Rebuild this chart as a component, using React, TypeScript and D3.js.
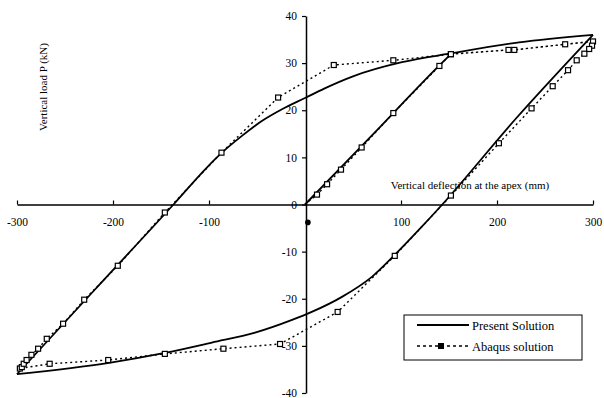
import React, { useEffect, useRef } from 'react';
import * as d3 from 'd3';

const width = 604;
const height = 398;
const font = '"Liberation Serif", "Times New Roman", serif';

// deflection (mm), load (kN)
const presentLoading: [number, number][] = [[0, 0], [70, 14.7], [140, 29.5], [153, 32.1]];
const presentUpper: [number, number][] = [
  [-300, -36], [-220, -18.3], [-137, 0], [-102, 7.9], [-86, 11.1], [-66, 14.5], [-45, 17.7],
  [-24, 20.2], [0, 22.6], [20, 24.6], [50, 27.2], [101, 30.2], [153, 32.1], [223, 34.4], [300, 36],
];
const presentLower: [number, number][] = [
  [300, 36], [220, 18.3], [143, 0], [119, -5.3], [94, -10.6], [70, -15.3], [38.5, -19.6],
  [7, -22.8], [-13.5, -24.5], [-52, -27.2], [-97, -29.3], [-146, -31.5], [-204, -33.6], [-300, -36],
];
const abaqusLoading: [number, number][] = [
  [12.5, 2.1], [23, 4.3], [37.5, 7.4], [59, 12.1], [92, 19.4], [140, 29.4], [152, 31.9],
];
const abaqusTop: [number, number][] = [[212, 32.8], [218, 32.8], [271, 34], [300, 34.6]];
const abaqusUnloading: [number, number][] = [
  [299, 33.7], [296, 33], [291, 32], [283, 30.6], [274, 28.5], [258, 25.1], [236, 20.4],
  [202, 13], [152, 1.9], [93.5, -10.9], [34, -22.8], [-26, -29.6], [-85, -30.6],
  [-146, -31.7], [-205, -33], [-266, -33.8], [-297, -34.8],
];
const abaqusReloading: [number, number][] = [
  [-295, -34.5], [-293, -33.8], [-290, -33], [-285, -31.9], [-278, -30.6], [-269, -28.5],
  [-252, -25.3], [-230, -20.2], [-195, -13], [-146, -1.7], [-87, 11], [-28, 22.7],
  [30, 29.6], [92, 30.6], [152, 31.9],
];
const strayPoint: [number, number] = [3, -3.8];
const xTicks = [-300, -200, -100, 100, 200, 300];
const yTicks = [-40, -30, -20, -10, 0, 10, 20, 30, 40];

const x = d3.scaleLinear().domain([-300, 300]).range([17, 593]);
const y = d3.scaleLinear().domain([-40, 40]).range([393, 16]);

export default function App() {
  const xAxisRef = useRef<SVGGElement>(null);
  const yAxisRef = useRef<SVGGElement>(null);

  useEffect(() => {
    const xa = d3.axisBottom(x).tickValues(xTicks).tickSizeInner(-4).tickSizeOuter(0).tickPadding(13).tickFormat(d => String(d));
    const ya = d3.axisLeft(y).tickValues(yTicks).tickSizeInner(4).tickSizeOuter(0).tickPadding(5).tickFormat(d => String(d));
    const gx = d3.select(xAxisRef.current!).call(xa);
    const gy = d3.select(yAxisRef.current!).call(ya);
    [gx, gy].forEach(g => {
      g.selectAll('path').attr('stroke', '#000').attr('stroke-width', 1.5);
      g.selectAll('line').attr('stroke', '#000').attr('stroke-width', 1.2);
      g.selectAll('text').attr('fill', '#000').style('font-family', font).style('font-size', '11.5px');
    });
  }, []);

  const smooth = d3.line<[number, number]>().x(d => x(d[0])).y(d => y(d[1])).curve(d3.curveMonotoneX);
  const straight = d3.line<[number, number]>().x(d => x(d[0])).y(d => y(d[1]));

  const abaqusAll = [...abaqusLoading, ...abaqusTop, ...abaqusUnloading, ...abaqusReloading, ...abaqusTop];
  const markers = [...abaqusLoading, ...abaqusTop, ...abaqusUnloading, ...abaqusReloading];

  return (
    <svg width={width} height={height} style={{ position: 'absolute', left: 0, top: 0, background: '#fff' }}>
      <g ref={xAxisRef} transform={`translate(0, ${y(0)})`} />
      <g ref={yAxisRef} transform={`translate(${x(0) + 1}, 0)`} />

      <path d={straight([[0, 0], ...abaqusLoading]) || ''} fill="none" stroke="#000" strokeWidth={1.4} strokeDasharray="2,3" />
      <path d={straight(abaqusAll.slice(abaqusLoading.length - 1)) || ''} fill="none" stroke="#000" strokeWidth={1.4} strokeDasharray="2,3" />

      <path d={smooth(presentLoading) || ''} fill="none" stroke="#000" strokeWidth={1.8} />
      <path d={smooth(presentUpper) || ''} fill="none" stroke="#000" strokeWidth={1.8} />
      <path d={smooth(presentLower) || ''} fill="none" stroke="#000" strokeWidth={1.8} />

      {markers.map((d, i) => (
        <rect key={i} x={x(d[0]) - 2.5} y={y(d[1]) - 2.5} width={5} height={5} fill="#fff" stroke="#000" strokeWidth={1.2} />
      ))}
      <circle cx={x(strayPoint[0])} cy={y(strayPoint[1])} r={2.8} fill="#000" />

      <text transform={`translate(47, 87) rotate(-90)`} textAnchor="middle" style={{ fontFamily: font, fontSize: 11 }}>Vertical load P (kN)</text>
      <text x={470} y={189} textAnchor="middle" style={{ fontFamily: font, fontSize: 11 }}>Vertical deflection at the apex (mm)</text>

      <g>
        <rect x={404} y={315} width={178} height={45} fill="#fff" stroke="#000" strokeWidth={1} />
        <line x1={417} x2={469} y1={325} y2={325} stroke="#000" strokeWidth={1.8} />
        <text x={472} y={329.5} style={{ fontFamily: font, fontSize: 12.5 }}>Present Solution</text>
        <line x1={417} x2={469} y1={346} y2={346} stroke="#000" strokeWidth={1.4} strokeDasharray="3,3" />
        <rect x={438.5} y={343.5} width={5} height={5} fill="#000" stroke="#000" />
        <text x={472} y={350.5} style={{ fontFamily: font, fontSize: 12.5 }}>Abaqus solution</text>
      </g>
    </svg>
  );
}
